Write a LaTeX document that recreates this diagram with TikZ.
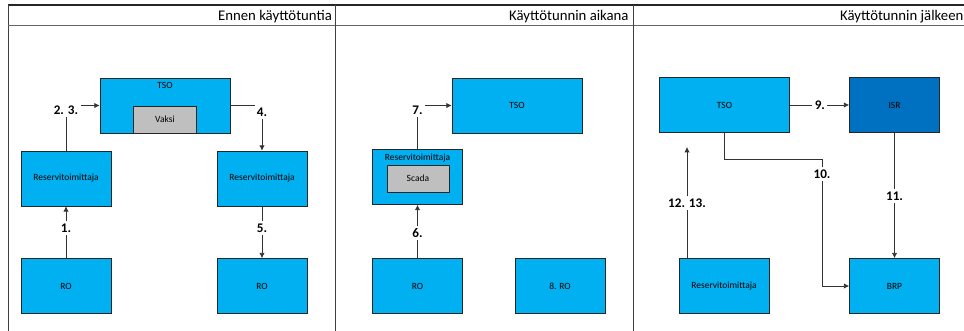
\documentclass[tikz,border=0pt]{standalone}
\usepackage{fontspec}
\setmainfont{Carlito}
\usetikzlibrary{arrows.meta}
\definecolor{boxblue}{RGB}{0,176,240}
\definecolor{isrblue}{RGB}{0,112,192}
\definecolor{vaksigray}{RGB}{191,191,191}
\tikzstyle{box}=[draw=black!85,fill=boxblue,line width=0.6pt,minimum width=3cm,minimum height=1.833cm,inner sep=1pt,font=\fontsize{9}{10}\selectfont]
\tikzstyle{widebox}=[box,minimum width=4.333cm]
\tikzstyle{graybox}=[draw=black!85,fill=vaksigray,line width=0.6pt,minimum width=2.1cm,minimum height=0.9cm,inner sep=1pt,font=\fontsize{9}{10}\selectfont]
\tikzstyle{boxtxt}=[anchor=north,inner sep=4.5pt,font=\fontsize{9}{10}\selectfont]
\tikzstyle{num}=[fill=white,inner sep=2pt,font=\bfseries\fontsize{12.5}{14}\selectfont]
\tikzstyle{con}=[draw=black!80,line width=0.7pt]
\tikzstyle{arr}=[con,-{Latex[length=5pt,width=5pt]}]
\tikzstyle{hdr}=[anchor=base east,inner sep=0pt,font=\fontsize{14}{16}\selectfont]

\begin{document}
\begin{tikzpicture}
\useasboundingbox[fill=white] (0,0) rectangle (32.133,-11.033);
\draw[line width=1.4pt,black!85] (0.267,-0.167) -- (32.3,-0.167);
\draw[line width=0.9pt,black!75] (0.267,-0.167) -- (0.267,-11.5);
\draw[line width=0.7pt,black!60] (0.267,-0.833) -- (32.3,-0.833);
\draw[line width=0.9pt,black!75] (11.167,-0.167) -- (11.167,-11.5);
\draw[line width=0.9pt,black!75] (21.1,-0.167) -- (21.1,-11.5);
\node[hdr] (hdrA) at (11.07,-0.69) {Ennen käyttötuntia};
\node[hdr] (hdrB) at (20.96,-0.69) {Käyttötunnin aikana};
\node[hdr] (hdrC) at (32.12,-0.69) {Käyttötunnin jälkeen};

\node[widebox] (tsoA) at (5.5,-3.517) {};
\node[boxtxt] (tsoAtxt) at (tsoA.north) {TSO};
\node[graybox,anchor=south] (vaksi) at (tsoA.south) {Vaksi};
\node[box] (resA1) at (2.2,-5.95) {Reservitoimittaja};
\node[box] (resA2) at (8.733,-5.95) {Reservitoimittaja};
\node[box] (roA1) at (2.2,-9.533) {RO};
\node[box] (roA2) at (8.733,-9.533) {RO};
\node[num] (l1) at (2.2,-7.6) {1.};
\node[num] (l23) at (2.2,-3.67) {2. 3.};
\node[num] (l4) at (8.733,-3.73) {4.};
\node[num] (l5) at (8.733,-7.6) {5.};
\draw[arr] (roA1) -- (l1) -- (resA1);
\draw[con] (resA1) -- (l23);
\draw[arr] (l23.east |- tsoA) -- (tsoA);
\draw[con] (tsoA) -- (tsoA -| l4.west);
\draw[arr] (l4) -- (resA2);
\draw[arr] (resA2) -- (l5) -- (roA2);

\node[widebox] (tsoB) at (17.233,-3.517) {TSO};
\node[box] (resB) at (13.917,-5.9) {};
\node[boxtxt] (resBtxt) at (resB.north) {Reservitoimittaja};
\node[graybox,minimum width=2.07cm] (scada) at (13.93,-5.95) {Scada};
\node[box] (roB1) at (13.917,-9.533) {RO};
\node[box] (roB2) at (18.667,-9.533) {8. RO};
\node[num] (l6) at (13.917,-7.77) {6.};
\node[num] (l7) at (13.917,-3.67) {7.};
\draw[arr] (roB1) -- (l6) -- (resB);
\draw[con] (resB) -- (l7);
\draw[arr] (l7.east |- tsoB) -- (tsoB);

\node[widebox] (tsoC) at (24.15,-3.5) {TSO};
\node[box,fill=isrblue] (isr) at (29.817,-3.5) {ISR};
\node[box] (resC) at (24.133,-9.533) {Reservitoimittaja};
\node[box] (brp) at (29.817,-9.533) {BRP};
\coordinate (c10) at (27.4,-5.3);
\coordinate (c12) at (22.9,-4.9);
\node[num] (l9) at (27.33,-3.5) {9.};
\node[num] (l10) at (27.4,-5.8) {10.};
\node[num] (l11) at (29.817,-6.53) {11.};
\node[num] (l12) at (22.9,-6.77) {12. 13.};
\draw[arr] (tsoC) -- (l9) -- (isr);
\draw[con] (tsoC) |- (c10) -- (l10);
\draw[arr] (l10) |- (brp);
\draw[arr] (isr) -- (l11) -- (brp);
\draw[arr] (resC.north -| c12) -- (l12) -- (c12);
\end{tikzpicture}
\end{document}
